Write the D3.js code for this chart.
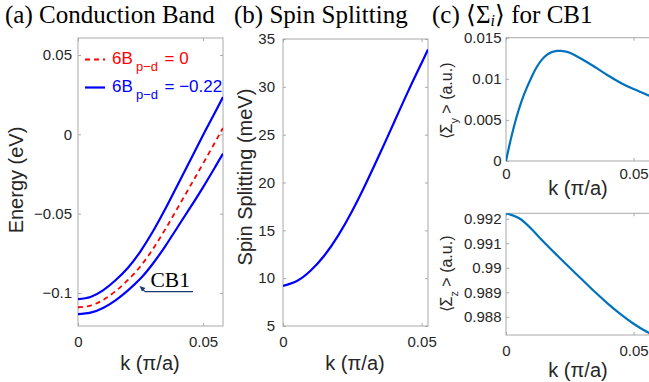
<!DOCTYPE html>
<html><head><meta charset="utf-8">
<script src="https://cdn.jsdelivr.net/npm/d3@7"></script>
<style>
body{margin:0;background:#fff}
svg{display:block}
.tick text{font-family:"Liberation Sans",Arial,sans-serif;font-size:15px;fill:#262626}
.lab{font-family:"Liberation Sans",Arial,sans-serif;font-size:20px;fill:#262626}
.ttl{font-family:"Liberation Serif","Times New Roman",serif;font-size:25px;fill:#000}
</style></head><body>
<svg id="c" width="649" height="382"></svg>
<script>
// ---------- data ----------
const kA = [0, 0.005, 0.01, 0.015, 0.02, 0.025, 0.03, 0.035, 0.04, 0.045, 0.05, 0.055, 0.058];
const energyUpper = [-0.1039, -0.1025, -0.0984, -0.0920, -0.0841, -0.0737, -0.0611, -0.0468, -0.0314, -0.0160, -0.0006, 0.0144, 0.0235];
const energyB0    = [-0.1090, -0.1079, -0.1044, -0.0989, -0.0918, -0.0831, -0.0722, -0.0596, -0.0460, -0.0323, -0.0185, -0.0045, 0.0040];
const energyLower = [-0.1133, -0.1124, -0.1094, -0.1046, -0.0983, -0.0909, -0.0814, -0.0703, -0.0581, -0.0459, -0.0334, -0.0202, -0.0122];

const kB = [0, 0.005, 0.01, 0.015, 0.02, 0.025, 0.03, 0.035, 0.04, 0.045, 0.05, 0.0523];
const spinSplitting = [9.2, 9.7, 10.8, 12.4, 14.5, 17.05, 19.95, 23.05, 26.25, 29.45, 32.5, 33.9];

const kCy = [0, 0.002, 0.004, 0.006, 0.008, 0.01, 0.012, 0.014, 0.016, 0.018, 0.02, 0.022, 0.025, 0.03, 0.035, 0.04, 0.045, 0.05, 0.055, 0.058];
const sigmaY = [0, 0.0028, 0.0052, 0.0072, 0.0088, 0.0102, 0.0114, 0.0123, 0.0129, 0.01325, 0.0134, 0.01338, 0.01318, 0.01235, 0.0114, 0.0104, 0.0095, 0.00875, 0.0081, 0.0077];

const kCz = [0, 0.005, 0.01, 0.015, 0.02, 0.025, 0.03, 0.035, 0.04, 0.045, 0.05, 0.055, 0.058];
const sigmaZ = [0.99222, 0.99203, 0.99158, 0.99103, 0.99051, 0.99000, 0.98950, 0.98900, 0.98853, 0.98810, 0.98772, 0.98740, 0.98724];

const kTicks = [0, 0.05];
const kTickLabels = ["0", "0.05"];
const energyTicks = [0.05, 0, -0.05, -0.1];
const energyTickLabels = ["0.05", "0", "\u22120.05", "\u22120.1"];
const splitTicks = [5, 10, 15, 20, 25, 30, 35];
const splitTickLabels = ["5", "10", "15", "20", "25", "30", "35"];
const sigYTicks = [0, 0.005, 0.01, 0.015];
const sigYTickLabels = ["0", "0.005", "0.01", "0.015"];
const sigZTicks = [0.988, 0.989, 0.99, 0.991, 0.992];
const sigZTickLabels = ["0.988", "0.989", "0.99", "0.991", "0.992"];

// ---------- drawing ----------
const svg = d3.select("#c");
const boxColor = "#a9a9a9";
const defs = svg.append("defs");

function panel(o) {
  const x = d3.scaleLinear().domain(o.xd).range(o.xr);
  const y = d3.scaleLinear().domain(o.yd).range(o.yr);
  const g = svg.append("g");
  defs.append("clipPath").attr("id", o.id).append("rect")
    .attr("x", o.xr[0]).attr("y", o.yr[1])
    .attr("width", o.xr[1] - o.xr[0]).attr("height", o.yr[0] - o.yr[1]);
  const ax = (gen, tr) => {
    const a = g.append("g").attr("transform", tr).call(gen);
    a.select(".domain").remove();
    a.selectAll(".tick line").attr("stroke", boxColor);
    return a;
  };
  ax(d3.axisBottom(x).tickValues(o.xt).tickFormat((d, i) => o.xl[i]).tickSize(-3).tickPadding(o.xpad), `translate(0,${o.yr[0]})`);
  ax(d3.axisTop(x).tickValues(o.xt).tickFormat("").tickSize(-3), `translate(0,${o.yr[1]})`);
  ax(d3.axisLeft(y).tickValues(o.yt).tickFormat((d, i) => o.yl[i]).tickSize(-3).tickPadding(o.ypad), `translate(${o.xr[0]},0)`);
  ax(d3.axisRight(y).tickValues(o.yt).tickFormat("").tickSize(-3), `translate(${o.xr[1]},0)`);
  g.append("rect").attr("x", o.xr[0]).attr("y", o.yr[1])
    .attr("width", o.xr[1] - o.xr[0]).attr("height", o.yr[0] - o.yr[1])
    .attr("fill", "none").attr("stroke", boxColor).attr("stroke-width", 1);
  const plot = g.append("g").attr("clip-path", `url(#${o.id})`);
  return { x, y, g, plot };
}

function drawLine(p, ks, vs, color, dash, w) {
  const line = d3.line().x((d, i) => p.x(ks[i])).y(d => p.y(d)).curve(d3.curveNatural);
  p.plot.append("path").datum(vs).attr("d", line)
    .attr("fill", "none").attr("stroke", color).attr("stroke-width", w)
    .attr("stroke-dasharray", dash || null);
}

// (a)
const pa = panel({ id: "ca", xd: [0, 0.058], xr: [78, 223], yd: [-0.1208, 0.0607], yr: [326, 38],
  xt: kTicks, xl: kTickLabels, yt: energyTicks, yl: energyTickLabels, xpad: 10, ypad: 6 });
drawLine(pa, kA, energyUpper, "#0000ff", null, 2.2);
drawLine(pa, kA, energyLower, "#0000ff", null, 2.2);
drawLine(pa, kA, energyB0, "#ff0000", "5,4", 1.8);

// legend (a)
const lg = svg.append("g").attr("font-family", "Liberation Sans, Arial, sans-serif");
lg.append("line").attr("x1", 85).attr("x2", 105).attr("y1", 59.5).attr("y2", 59.5)
  .attr("stroke", "#ff0000").attr("stroke-width", 1.8).attr("stroke-dasharray", "5,4");
lg.append("line").attr("x1", 85).attr("x2", 105).attr("y1", 87.5).attr("y2", 87.5)
  .attr("stroke", "#0000ff").attr("stroke-width", 2.2);
[["= 0", "#ff0000", 63.5], ["= \u22120.22", "#0000ff", 91.5]].forEach(([t, c, by]) => {
  lg.append("text").attr("x", 112).attr("y", by).attr("font-size", 17).attr("fill", c).text("6B");
  lg.append("text").attr("x", 136).attr("y", by + 7.5).attr("font-size", 13).attr("fill", c).text("p\u2212d");
  lg.append("text").attr("x", 164.5).attr("y", by).attr("font-size", 17).attr("fill", c).text(t);
});

// CB1 annotation
const an = svg.append("g");
const navy = "#1f3a6e";
an.append("line").attr("x1", 145).attr("y1", 291.7).attr("x2", 193).attr("y2", 291.7).attr("stroke", navy).attr("stroke-width", 1.2);
an.append("line").attr("x1", 145).attr("y1", 291.7).attr("x2", 142).attr("y2", 288.5).attr("stroke", navy).attr("stroke-width", 1.2);
an.append("path").attr("d", "M139.5,286 L145.5,288 L142,291.5 Z").attr("fill", navy);
an.append("text").attr("x", 150.5).attr("y", 287).attr("font-family", "Liberation Serif, Times New Roman, serif")
  .attr("font-size", 21.5).attr("fill", "#000").text("CB1");

// (b)
const pb = panel({ id: "cb", xd: [0, 0.0523], xr: [283, 428], yd: [5, 35], yr: [326, 39],
  xt: kTicks, xl: kTickLabels, yt: splitTicks, yl: splitTickLabels, xpad: 10, ypad: 8 });
drawLine(pb, kB, spinSplitting, "#0000ff", null, 2.2);

// (c) top
const pc1 = panel({ id: "cc1", xd: [0, 0.058], xr: [506, 654], yd: [0, 0.015], yr: [161, 37.7],
  xt: kTicks, xl: kTickLabels, yt: sigYTicks, yl: sigYTickLabels, xpad: 7, ypad: 4.5 });
drawLine(pc1, kCy, sigmaY, "#0072bd", null, 2.2);

// (c) bottom
const pc2 = panel({ id: "cc2", xd: [0, 0.058], xr: [506, 654], yd: [0.98726, 0.99222], yr: [335, 213.3],
  xt: kTicks, xl: kTickLabels, yt: sigZTicks, yl: sigZTickLabels, xpad: 10, ypad: 4.5 });
drawLine(pc2, kCz, sigmaZ, "#0072bd", null, 2.2);

// axis labels
const kLabel = (cx, cy) => svg.append("text").attr("class", "lab").attr("x", cx).attr("y", cy)
  .attr("text-anchor", "middle").attr("dominant-baseline", "central").text("k (\u03c0/a)");
kLabel(150, 363); kLabel(355, 363); kLabel(578, 188); kLabel(578, 370);

svg.append("text").attr("class", "lab").attr("text-anchor", "middle").attr("dominant-baseline", "central")
  .attr("transform", "translate(16,180) rotate(-90)").text("Energy (eV)");
svg.append("text").attr("class", "lab").attr("text-anchor", "middle").attr("dominant-baseline", "central")
  .attr("transform", "translate(245,177) rotate(-90)").text("Spin Splitting (meV)");

function sigLabel(cx, cy, sub) {
  const t = svg.append("text").attr("font-family", "Liberation Sans, Arial, sans-serif").attr("font-size", 16)
    .attr("fill", "#262626").attr("text-anchor", "middle")
    .attr("transform", `translate(${cx},${cy}) rotate(-90)`);
  t.append("tspan").text("\u27e8\u03a3");
  t.append("tspan").attr("font-size", 11).attr("dy", 6).text(sub);
  t.append("tspan").attr("dy", -6).text(" > (a.u.)");
}
sigLabel(452, 101, "y");
sigLabel(452, 274, "z");

// titles
svg.append("text").attr("class", "ttl").attr("x", 5).attr("y", 23).text("(a) Conduction Band");
svg.append("text").attr("class", "ttl").attr("x", 234).attr("y", 23).text("(b) Spin Splitting");
const tc = svg.append("text").attr("class", "ttl").attr("x", 432).attr("y", 23);
tc.append("tspan").text("(c) \u27e8\u03a3");
tc.append("tspan").attr("font-style", "italic").attr("font-size", 16).attr("dy", 3).text("i");
tc.append("tspan").attr("dy", -3).text("\u27e9 for CB1");
</script>
</body></html>
